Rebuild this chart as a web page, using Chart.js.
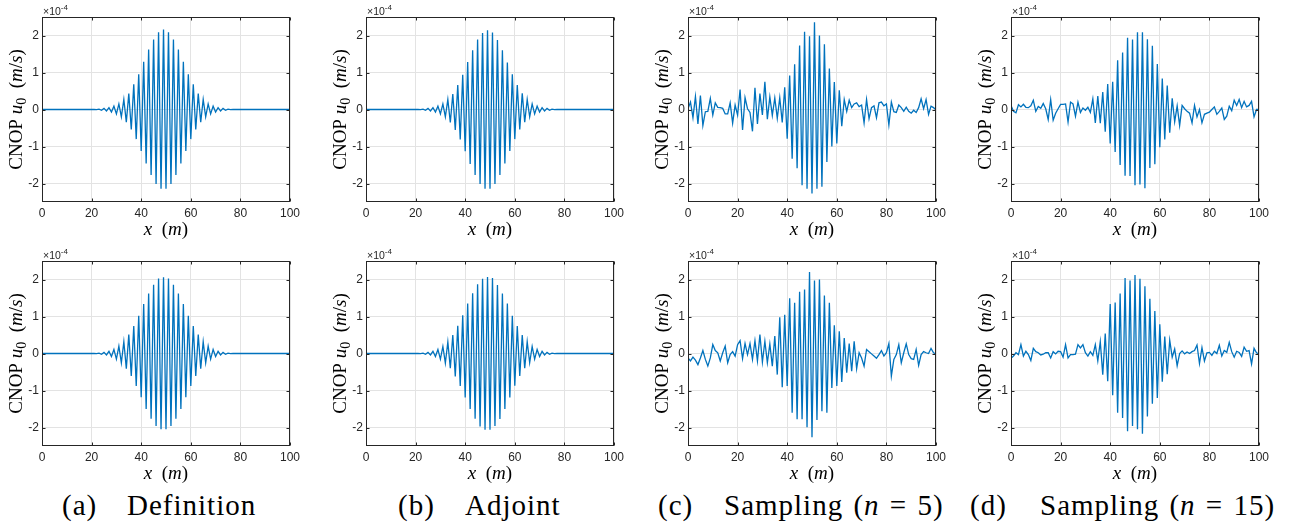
<!DOCTYPE html>
<html>
<head>
<meta charset="utf-8">
<script src="https://cdn.jsdelivr.net/npm/chart.js@4.4.1/dist/chart.umd.min.js"></script>
<style>
  body { margin: 0; background: #fff; width: 1292px; height: 522px; position: relative; overflow: hidden; }
  canvas { position: absolute; }
  .cap { position: absolute; top: 491px; font: 29px "Liberation Serif", serif; line-height: 28px; color: #000; white-space: nowrap; letter-spacing: 1px; word-spacing: 2px; }
</style>
</head>
<body>
<canvas id="defTop" width="310" height="242" style="left:0px;top:0px"></canvas>
<canvas id="adjTop" width="310" height="242" style="left:324px;top:0px"></canvas>
<canvas id="s5Top" width="310" height="242" style="left:646px;top:0px"></canvas>
<canvas id="s15Top" width="310" height="242" style="left:969px;top:0px"></canvas>
<canvas id="defBot" width="310" height="242" style="left:0px;top:244px"></canvas>
<canvas id="adjBot" width="310" height="242" style="left:324px;top:244px"></canvas>
<canvas id="s5Bot" width="310" height="242" style="left:646px;top:244px"></canvas>
<canvas id="s15Bot" width="310" height="242" style="left:969px;top:244px"></canvas>

<div class="cap" style="left:62px">(a)</div><div class="cap" style="left:127px">Definition</div>
<div class="cap" style="left:398px">(b)</div><div class="cap" style="left:465px">Adjoint</div>
<div class="cap" style="left:658px">(c)</div><div class="cap" style="left:724px">Sampling (<i>n</i> = 5)</div>
<div class="cap" style="left:970px">(d)</div><div class="cap" style="left:1040px">Sampling (<i>n</i> = 15)</div>

<script>
// grid points x = 0..100 m
const xPositions = Array.from({ length: 101 }, (_, i) => i);
const xTicks = [0, 20, 40, 60, 80, 100];
const yTicks = [-2, -1, 0, 1, 2];

// CNOP values, in units of 1e-4 m/s
const definitionTop = [
  0, 0, 0, 0, 0, 0, 0, 0, 0, 0,
  0, 0, 0, 0, 0, 0, 0, 0, 0, 0,
  0, 0, -0.005, 0.01, -0.02, 0.03, -0.04, 0.05, -0.07, 0.09,
  -0.12, 0.15, -0.20, 0.27, -0.34, 0.43, -0.54, 0.68, -0.80, 0.95,
  -1.12, 1.29, -1.46, 1.62, -1.77, 1.89, -2.01, 2.09, -2.14, 2.16,
  -2.14, 2.09, -2.01, 1.89, -1.77, 1.62, -1.46, 1.29, -1.12, 0.95,
  -0.80, 0.68, -0.54, 0.43, -0.34, 0.27, -0.20, 0.15, -0.12, 0.09,
  -0.07, 0.05, -0.04, 0.03, -0.02, 0.01, -0.005, 0, 0, 0,
  0, 0, 0, 0, 0, 0, 0, 0, 0, 0,
  0, 0, 0, 0, 0, 0, 0, 0, 0, 0,
  0
];
const adjointTop = [
  0, 0, 0, 0, 0, 0, 0, 0, 0, 0,
  0, 0, 0, 0, 0, 0, 0, 0, 0, 0,
  0, 0, -0.005, 0.01, -0.02, 0.03, -0.04, 0.05, -0.07, 0.09,
  -0.12, 0.15, -0.20, 0.27, -0.35, 0.42, -0.55, 0.66, -0.81, 0.94,
  -1.13, 1.28, -1.47, 1.60, -1.77, 1.89, -2.01, 2.07, -2.14, 2.14,
  -2.14, 2.08, -2.01, 1.88, -1.77, 1.60, -1.46, 1.27, -1.12, 0.95,
  -0.80, 0.66, -0.54, 0.44, -0.34, 0.27, -0.20, 0.15, -0.12, 0.09,
  -0.07, 0.05, -0.04, 0.03, -0.02, 0.01, -0.005, 0, 0, 0,
  0, 0, 0, 0, 0, 0, 0, 0, 0, 0,
  0, 0, 0, 0, 0, 0, 0, 0, 0, 0,
  0
];
const sampling5Top = [
  0.02, 0.20, -0.22, 0.35, -0.39, 0.38, -0.43, -0.06, -0.05, 0.30,
  -0.15, 0.18, 0.06, 0.05, 0.03, -0.12, -0.12, 0.18, -0.37, 0.12,
  -0.15, 0.54, -0.55, 0.32, 0.02, -0.08, -0.59, 0.59, -0.39, 0.43,
  -0.15, 0.75, -0.26, 0.34, -0.16, 0.31, -0.24, 0.32, -0.35, 0.60,
  -0.79, 0.92, -1.33, 1.22, -1.59, 1.73, -2.05, 2.10, -2.14, 1.98,
  -2.27, 2.36, -2.14, 2.00, -2.09, 1.76, -1.42, 1.11, -1.00, 0.74,
  -0.92, 0.52, -0.45, 0.27, -0.05, 0.25, 0.05, 0.15, 0.18, 0.08,
  0.12, -0.36, 0.27, -0.25, 0.05, 0.10, -0.22, 0.18, 0.20, 0.10,
  0.15, -0.42, 0.20, -0.06, -0.08, 0.12, 0.05, -0.05, 0.06, -0.05,
  -0.10, -0.02, -0.08, 0.05, 0.29, 0.02, 0.27, -0.13, 0.09, 0.05,
  -0.01
];
const sampling15Top = [
  0.11, -0.05, -0.09, 0.13, 0.07, 0.14, 0.06, 0.05, 0.10, 0.25,
  -0.05, 0.08, 0.03, 0.16, 0.02, -0.27, 0.27, -0.29, -0.10, 0.02,
  0.14, 0.14, 0.15, -0.34, 0.20, 0.15, -0.18, 0.20, -0.08, 0.04,
  -0.02, 0.06, -0.08, 0.29, -0.36, 0.36, -0.37, 0.47, -0.60, 0.69,
  -0.92, 0.75, -1.15, 1.33, -1.50, 1.54, -1.79, 1.94, -1.80, 1.89,
  -2.05, 2.09, -2.03, 2.09, -2.13, 1.90, -1.58, 1.72, -1.48, 1.23,
  -1.02, 0.84, -0.81, 0.65, -0.63, 0.30, -0.33, 0.10, -0.43, 0.11,
  0.02, -0.05, -0.10, -0.36, 0.11, -0.20, 0.00, -0.36, -0.13, -0.10,
  -0.07, 0.00, 0.07, -0.13, -0.05, 0.04, -0.27, -0.18, 0.09, -0.03,
  0.25, 0.11, 0.27, 0.05, 0.22, 0.07, 0.11, 0.22, -0.20, 0.00,
  0.00
];
const definitionBottom = [
  0, 0, 0, 0, 0, 0, 0, 0, 0, 0,
  0, 0, 0, 0, 0, 0, 0, 0, 0, 0,
  0, 0, -0.005, 0.01, -0.02, 0.03, -0.04, 0.06, -0.08, 0.11,
  -0.15, 0.20, -0.25, 0.32, -0.41, 0.51, -0.61, 0.74, -0.88, 1.02,
  -1.18, 1.34, -1.50, 1.62, -1.76, 1.86, -1.96, 2.03, -2.05, 2.06,
  -2.05, 2.03, -1.96, 1.86, -1.76, 1.62, -1.50, 1.34, -1.18, 1.02,
  -0.88, 0.74, -0.61, 0.51, -0.41, 0.32, -0.25, 0.20, -0.15, 0.11,
  -0.08, 0.06, -0.04, 0.03, -0.02, 0.01, -0.005, 0, 0, 0,
  0, 0, 0, 0, 0, 0, 0, 0, 0, 0,
  0, 0, 0, 0, 0, 0, 0, 0, 0, 0,
  0
];
const adjointBottom = [
  0, 0, 0, 0, 0, 0, 0, 0, 0, 0,
  0, 0, 0, 0, 0, 0, 0, 0, 0, 0,
  0, 0, -0.005, 0.01, -0.02, 0.03, -0.04, 0.06, -0.08, 0.11,
  -0.15, 0.19, -0.26, 0.31, -0.40, 0.50, -0.62, 0.75, -0.88, 1.03,
  -1.19, 1.35, -1.50, 1.63, -1.76, 1.87, -1.97, 2.02, -2.06, 2.07,
  -2.06, 2.04, -1.96, 1.85, -1.77, 1.62, -1.50, 1.35, -1.19, 1.02,
  -0.87, 0.74, -0.61, 0.50, -0.40, 0.32, -0.25, 0.19, -0.15, 0.11,
  -0.08, 0.06, -0.04, 0.03, -0.02, 0.01, -0.005, 0, 0, 0,
  0, 0, 0, 0, 0, 0, 0, 0, 0, 0,
  0, 0, 0, 0, 0, 0, 0, 0, 0, 0,
  0
];
const sampling5Bottom = [
  -0.12, -0.20, -0.10, -0.18, -0.30, -0.12, 0.08, -0.16, -0.34, -0.12,
  0.24, 0.08, 0.02, -0.20, 0.02, 0.20, -0.25, -0.03, 0.05, -0.07,
  0.24, 0.35, -0.14, 0.27, -0.03, 0.27, -0.16, 0.35, -0.20, 0.51,
  -0.23, 0.33, -0.25, 0.26, -0.34, 0.47, -0.57, 0.98, -0.91, 1.05,
  -0.88, 1.49, -1.60, 1.37, -1.78, 1.67, -1.78, 1.73, -1.99, 2.20,
  -2.26, 1.97, -1.80, 2.00, -1.56, 1.57, -1.60, 1.37, -0.93, 0.76,
  -0.88, 0.60, -0.77, 0.42, -0.52, 0.27, -0.48, 0.33, -0.41, 0.02,
  -0.12, -0.34, 0.11, 0.05, -0.01, -0.07, -0.13, -0.03, 0.08, -0.07,
  0.02, 0.27, -0.61, -0.16, -0.03, 0.24, -0.25, 0.02, 0.26, -0.03,
  -0.14, -0.16, 0.11, -0.32, -0.03, 0.05, 0.02, 0.00, 0.14, 0.02,
  -0.01
];
const sampling15Bottom = [
  -0.13, -0.07, 0.02, -0.03, 0.24, -0.07, 0.06, -0.03, -0.19, 0.14,
  0.05, 0.02, -0.04, -0.02, 0.02, 0.02, -0.12, 0.05, -0.01, 0.06,
  0.05, -0.10, 0.24, -0.12, -0.03, -0.03, -0.02, 0.24, 0.15, 0.24,
  0.02, -0.07, 0.05, -0.05, 0.24, -0.20, 0.32, -0.57, 0.54, -0.75,
  1.34, -1.13, 1.38, -1.60, 1.62, -1.74, 2.04, -2.10, 1.97, -1.96,
  2.12, -2.05, 2.02, -2.17, 1.82, -1.70, 1.48, -1.36, 1.15, -1.20,
  0.79, -0.76, 0.46, -0.56, 0.36, -0.10, 0.12, -0.33, 0.00, 0.07,
  -0.01, 0.04, 0.00, 0.05, 0.08, 0.23, -0.27, 0.16, -0.20, 0.02,
  0.03, -0.05, 0.06, 0.00, 0.22, -0.07, 0.08, 0.03, 0.30, 0.05,
  -0.10, 0.06, 0.03, -0.08, 0.17, 0.06, 0.08, -0.28, 0.14, 0.02,
  -0.01
];

const AXIS = '#262626';
const SERIF = '"Liberation Serif", "Times New Roman", serif';
const SANS = '"Liberation Sans", Arial, sans-serif';

// draw a row of differently styled text pieces, centred on x
function drawRuns(ctx, runs, x, y) {
  let total = 0;
  runs.forEach(r => { ctx.font = r.font; total += ctx.measureText(r.t).width; });
  let cx = x - total / 2;
  runs.forEach(r => {
    ctx.font = r.font;
    ctx.fillText(r.t, cx, y + (r.dy || 0));
    cx += ctx.measureText(r.t).width;
  });
}

// matlab style box, inward ticks and labels
const matlabAxes = {
  id: 'matlabAxes',
  afterDatasetsDraw(chart) {
    const { ctx, chartArea: a, scales } = chart;
    const L = Math.round(a.left) + 0.5, R = Math.round(a.right) - 0.5;
    const T = Math.round(a.top) + 0.5, B = Math.round(a.bottom) - 0.5;
    ctx.save();
    ctx.strokeStyle = AXIS;
    ctx.lineWidth = 1;
    ctx.strokeRect(L, T, R - L, B - T);
    ctx.beginPath();
    xTicks.forEach(v => {
      const px = Math.round(scales.x.getPixelForValue(v)) + 0.5;
      ctx.moveTo(px, B); ctx.lineTo(px, B - 3);
      ctx.moveTo(px, T); ctx.lineTo(px, T + 3);
    });
    yTicks.forEach(v => {
      const py = Math.round(scales.y.getPixelForValue(v)) + 0.5;
      ctx.moveTo(L, py); ctx.lineTo(L + 3, py);
      ctx.moveTo(R, py); ctx.lineTo(R - 3, py);
    });
    ctx.stroke();

    ctx.fillStyle = '#000';
    ctx.textBaseline = 'alphabetic';
    ctx.textAlign = 'left';
    // x label
    drawRuns(ctx, [
      { t: 'x', font: 'italic 19px ' + SERIF },
      { t: '  (', font: '19px ' + SERIF },
      { t: 'm', font: 'italic 19px ' + SERIF },
      { t: ')', font: '19px ' + SERIF }
    ], (a.left + a.right) / 2, a.bottom + 33);
    // y label
    ctx.save();
    ctx.translate(a.left - 20, (a.top + a.bottom) / 2);
    ctx.rotate(-Math.PI / 2);
    drawRuns(ctx, [
      { t: 'CNOP ', font: '19px ' + SERIF },
      { t: 'u', font: 'italic 19px ' + SERIF },
      { t: '0', font: '14px ' + SERIF, dy: 4 },
      { t: '  (', font: '19px ' + SERIF },
      { t: 'm', font: 'italic 19px ' + SERIF },
      { t: '/', font: '19px ' + SERIF },
      { t: 's', font: 'italic 19px ' + SERIF },
      { t: ')', font: '19px ' + SERIF }
    ], 0, 0);
    ctx.restore();
    // exponent
    ctx.fillStyle = AXIS;
    ctx.font = '10.5px ' + SANS;
    ctx.fillText('\u00d710', a.left + 1, a.top - 2);
    const w = ctx.measureText('\u00d710').width;
    ctx.font = '8px ' + SANS;
    ctx.fillText('-4', a.left + 1 + w, a.top - 7);
    ctx.restore();
  }
};

function makePanel(id, values) {
  new Chart(document.getElementById(id), {
    type: 'line',
    data: {
      datasets: [{
        data: xPositions.map((x, i) => ({ x, y: values[i] })),
        borderColor: '#0072BD',
        borderWidth: 1.3,
        pointRadius: 0,
        tension: 0
      }]
    },
    options: {
      responsive: false,
      animation: false,
      layout: { padding: { top: 17, right: 20, left: 0, bottom: 0 } },
      plugins: { legend: { display: false }, tooltip: { enabled: false } },
      scales: {
        x: {
          type: 'linear', min: 0, max: 100,
          afterBuildTicks: s => { s.ticks = xTicks.map(v => ({ value: v })); },
          afterFit: s => { s.height = 40; },
          grid: { color: '#e3e3e3', drawTicks: false },
          border: { display: false },
          ticks: { color: AXIS, font: { family: SANS, size: 12 }, padding: 4, maxRotation: 0, autoSkip: false }
        },
        y: {
          min: -2.5, max: 2.5,
          afterBuildTicks: s => { s.ticks = yTicks.map(v => ({ value: v })); },
          afterFit: s => { s.width = 42; },
          grid: { color: '#e3e3e3', drawTicks: false },
          border: { display: false },
          ticks: { color: AXIS, font: { family: SANS, size: 12 }, padding: 3 }
        }
      }
    },
    plugins: [matlabAxes]
  });
}

makePanel('defTop', definitionTop);
makePanel('adjTop', adjointTop);
makePanel('s5Top', sampling5Top);
makePanel('s15Top', sampling15Top);
makePanel('defBot', definitionBottom);
makePanel('adjBot', adjointBottom);
makePanel('s5Bot', sampling5Bottom);
makePanel('s15Bot', sampling15Bottom);
</script>
</body>
</html>
